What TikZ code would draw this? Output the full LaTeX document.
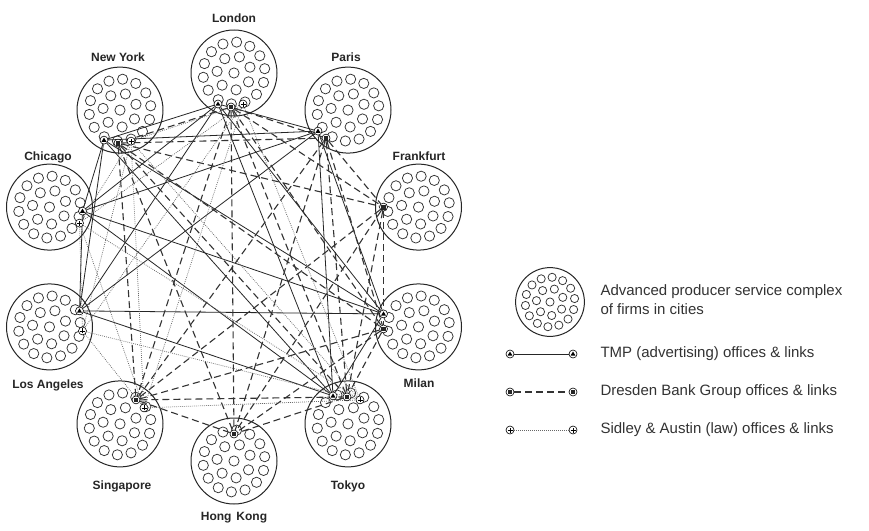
\documentclass[tikz,border=0pt]{standalone}
\usepackage{fontspec}
\setmainfont{Liberation Sans}
\pgfdeclarelayer{bg}
\pgfdeclarelayer{links}
\pgfsetlayers{bg,links,main}
\begin{document}
\begin{tikzpicture}[x=1pt,y=-1pt,
  cityc/.style={circle,draw=black!85,line width=1pt,minimum size=#1*86pt,inner sep=0pt,
    path picture={
      \begin{scope}[shift={(path picture bounding box.center)},line width=0.75pt]
      \foreach \k in {0,...,13} \draw[black!80] (\k*360/14+8:#1*31pt) circle (#1*5.1pt);
      \foreach \k in {0,...,6} \draw[black!80] (\k*360/7+20:#1*17pt) circle (#1*5.1pt);
      \draw[black!80] (0pt,0pt) circle (#1*5.1pt);
      \end{scope}}},
  cityc/.default=1,
  mk/.style={circle,draw=black,line width=0.6pt,fill=white,inner sep=0pt,minimum size=8pt},
  tmpm/.style={mk,path picture={\fill[black,shift={(path picture bounding box.center)}] (0pt,2.5pt) -- (-2.5pt,-1.7pt) -- (2.5pt,-1.7pt) -- cycle;}},
  dbm/.style={mk,path picture={\fill[black!85,shift={(path picture bounding box.center)}] (-2.4pt,-2.4pt) rectangle (2.4pt,2.4pt);}},
  sam/.style={mk,path picture={\draw[black,shift={(path picture bounding box.center)},line width=0.6pt] (-2.5pt,0pt) -- (2.5pt,0pt) (0pt,-2.5pt) -- (0pt,2.5pt);}},
  tmpl/.style={line width=0.8pt,draw=black!85},
  dbl/.style={line width=1.1pt,draw=black!80,dash pattern=on 7pt off 4pt},
  sal/.style={line width=0.7pt,draw=black!60,dash pattern=on 0.8pt off 1.2pt},
  cityname/.style={font=\fontsize{12}{14}\selectfont\bfseries,text=black!85},
  legtext/.style={font=\fontsize{15}{19}\selectfont,text=black!80,anchor=west,align=left}
]
\useasboundingbox (0,0) rectangle (869,530);

\begin{pgfonlayer}{bg}
\fill[white] (0,0) rectangle (869,530);
\node[cityc] (Lon) at (234,73) {};
\node[cityc] (NY)  at (120,110.1) {};
\node[cityc] (Par) at (348,110.1) {};
\node[cityc] (Chi) at (49.5,207.1) {};
\node[cityc] (Fra) at (418.5,207.1) {};
\node[cityc] (LA)  at (49.5,326.9) {};
\node[cityc] (Mil) at (418.5,326.9) {};
\node[cityc] (Sin) at (120,423.9) {};
\node[cityc] (Tok) at (348,423.9) {};
\node[cityc] (HK)  at (234,461) {};
\node[cityc=0.8] (Leg) at (550,302) {};
\end{pgfonlayer}

% city names
\node[cityname] (nLon) at (234,18) {London};
\node[cityname] (nNY)  at (118,57) {New York};
\node[cityname] (nPar) at (346,57) {Paris};
\node[cityname] (nChi) at (48,157) {Chicago};
\node[cityname] (nFra) at (419,156) {Frankfurt};
\node[cityname] (nLA)  at (48,385) {Los Angeles};
\node[cityname] (nMil) at (419,383) {Milan};
\node[cityname] (nSin) at (122,486) {Singapore};
\node[cityname] (nTok) at (348,486) {Tokyo};
\node[cityname] (nHK)  at (234,518) {Hong\hspace{5pt}Kong};

% offices
\node[tmpm] (TLon) at ([shift={(-16,31)}]Lon.center) {};
\node[dbm]  (DLon) at ([shift={(-3,34)}]Lon.center) {};
\node[sam]  (SLon) at ([shift={(9,31)}]Lon.center) {};
\node[tmpm] (TNY) at ([shift={(-16,30)}]NY.center) {};
\node[dbm]  (DNY) at ([shift={(-2,33)}]NY.center) {};
\node[sam]  (SNY) at ([shift={(11,31)}]NY.center) {};
\node[tmpm] (TPar) at ([shift={(-30,21)}]Par.center) {};
\node[dbm]  (DPar) at ([shift={(-22,28)}]Par.center) {};
\node[tmpm] (TChi) at ([shift={(33,4)}]Chi.center) {};
\node[sam]  (SChi) at ([shift={(30,16)}]Chi.center) {};
\node[dbm]  (DFra) at ([shift={(-35,0)}]Fra.center) {};
\node[tmpm] (TLA) at ([shift={(30,-16)}]LA.center) {};
\node[sam]  (SLA) at ([shift={(33,4)}]LA.center) {};
\node[tmpm] (TMil) at ([shift={(-35,-13)}]Mil.center) {};
\node[dbm]  (DMil) at ([shift={(-35,2)}]Mil.center) {};
\node[tmpm] (TTok) at ([shift={(-15,-28)}]Tok.center) {};
\node[dbm]  (DTok) at ([shift={(-1,-27)}]Tok.center) {};
\node[sam]  (STok) at ([shift={(12,-24)}]Tok.center) {};
\node[dbm]  (DSin) at ([shift={(16,-24)}]Sin.center) {};
\node[sam]  (SSin) at ([shift={(24,-16)}]Sin.center) {};
\node[dbm]  (DHK) at ([shift={(0,-27)}]HK.center) {};

\begin{pgfonlayer}{links}
\foreach \a [count=\i] in {Lon,NY,Par,Chi,LA,Mil,Tok}{
  \foreach \b [count=\j] in {Lon,NY,Par,Chi,LA,Mil,Tok}{
    \ifnum\i<\j \draw[tmpl] (T\a) -- (T\b); \fi }}
\foreach \a [count=\i] in {Lon,NY,Par,Fra,Mil,Sin,Tok,HK}{
  \foreach \b [count=\j] in {Lon,NY,Par,Fra,Mil,Sin,Tok,HK}{
    \ifnum\i<\j \draw[dbl] (D\a) -- (D\b); \fi }}
\foreach \a [count=\i] in {Lon,NY,Chi,LA,Sin,Tok}{
  \foreach \b [count=\j] in {Lon,NY,Chi,LA,Sin,Tok}{
    \ifnum\i<\j \draw[sal] (S\a) -- (S\b); \fi }}
\end{pgfonlayer}

% legend
\node[legtext] (tLeg) at (597,300) {Advanced producer service complex\\of firms in cities};
\node[tmpm] (LTa) at (510,354) {};
\node[tmpm] (LTb) at (573,354) {};
\draw[tmpl] (LTa) -- (LTb);
\node[legtext] (tLT) at (597,354) {TMP (advertising) offices \& links};
\node[dbm] (LDa) at (510,392) {};
\node[dbm] (LDb) at (573,392) {};
\draw[dbl] (LDa) -- (LDb);
\node[legtext] (tLD) at (597,392) {Dresden Bank Group offices \& links};
\node[sam] (LSa) at (510,430) {};
\node[sam] (LSb) at (573,430) {};
\draw[sal] (LSa) -- (LSb);
\node[legtext] (tLS) at (597,430) {Sidley \& Austin (law) offices \& links};
\end{tikzpicture}
\end{document}
